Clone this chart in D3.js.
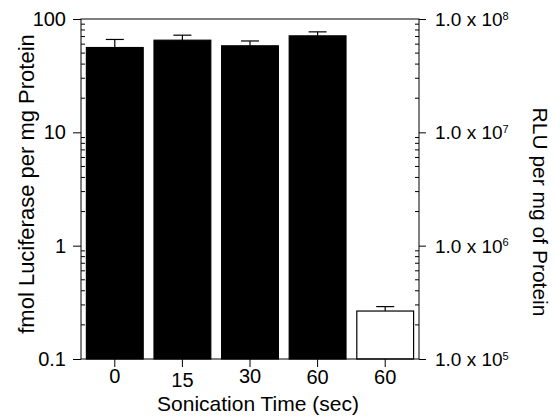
<!DOCTYPE html>
<html>
<head>
<meta charset="utf-8">
<script src="https://cdn.jsdelivr.net/npm/d3@7"></script>
<style>
  body { margin: 0; background: #fff; }
  text { font-family: "Liberation Sans", Arial, sans-serif; fill: #000; }
</style>
</head>
<body>
<div id="chart"></div>
<script>
// data
const categories = ['0', '15', '30', '60', '60 '];
const values = [56, 65, 58, 71, 0.265];
const errors = [66, 72, 64, 77, 0.29];
const filled = [true, true, true, true, false];
const leftTicks = [0.1, 1, 10, 100];
const rightTicks = [1e5, 1e6, 1e7, 1e8];

const width = 555, height = 416;
const m = { top: 19, right: 136, bottom: 57, left: 81 };
const w = width - m.left - m.right;
const h = height - m.top - m.bottom;

// small vertical jitter of the x labels, as in the original scan
const labelShift = [-2, 2, -2, -1, -1];

const svg = d3.select('#chart').append('svg')
  .attr('width', width)
  .attr('height', height);

const g = svg.append('g').attr('transform', `translate(${m.left},${m.top})`);

const x = d3.scaleBand().domain(categories).range([0, w]).paddingInner(0.16).paddingOuter(0.08);
const y = d3.scaleLog().domain([0.1, 100]).range([h, 0]);
const y2 = d3.scaleLog().domain([1e5, 1e8]).range([h, 0]);

// bars
g.selectAll('.bar')
  .data(values)
  .enter().append('rect')
  .attr('x', (d, i) => x(categories[i]))
  .attr('width', x.bandwidth())
  .attr('y', d => y(d))
  .attr('height', d => h - y(d))
  .style('fill', (d, i) => filled[i] ? '#000' : '#fff')
  .style('stroke', '#000')
  .style('stroke-width', 1.2);

// error bars
const cap = 9;
errors.forEach((e, i) => {
  const cx = x(categories[i]) + x.bandwidth() / 2;
  g.append('line')
    .attr('x1', cx).attr('x2', cx)
    .attr('y1', y(values[i])).attr('y2', y(e))
    .style('stroke', '#000').style('stroke-width', 1.2);
  g.append('line')
    .attr('x1', cx - cap).attr('x2', cx + cap)
    .attr('y1', y(e)).attr('y2', y(e))
    .style('stroke', '#000').style('stroke-width', 1.2);
});

// frame
g.append('rect')
  .attr('width', w).attr('height', h)
  .style('fill', 'none').style('stroke', '#000').style('stroke-width', 1);

// minor ticks
const minor = [];
[0.1, 1, 10].forEach(dec => { for (let k = 2; k <= 9; k++) minor.push(dec * k); });
g.selectAll('.minorL').data(minor).enter().append('line')
  .attr('x1', 0).attr('x2', 4)
  .attr('y1', d => y(d)).attr('y2', d => y(d))
  .style('stroke', '#000');
g.selectAll('.minorR').data(minor).enter().append('line')
  .attr('x1', w).attr('x2', w - 4)
  .attr('y1', d => y(d)).attr('y2', d => y(d))
  .style('stroke', '#000');

// left axis
const yAxis = g.append('g')
  .call(d3.axisLeft(y).tickValues(leftTicks).tickFormat(d => d3.format('~g')(d)).tickSize(8).tickPadding(7));
yAxis.select('.domain').remove();
yAxis.selectAll('text').style('font-size', '20px');

// right axis
const y2Axis = g.append('g')
  .attr('transform', `translate(${w},0)`)
  .call(d3.axisRight(y2).tickValues(rightTicks).tickFormat('').tickSize(7));
y2Axis.select('.domain').remove();
y2Axis.selectAll('.tick').append('text')
  .attr('x', 16).attr('dy', '0.35em')
  .style('font-size', '19px')
  .style('text-anchor', 'start')
  .each(function (d) {
    const t = d3.select(this);
    t.append('tspan').text('1.0 x 10');
    t.append('tspan').attr('dy', '-0.6em').style('font-size', '11px').text(Math.round(Math.log10(d)));
  });

// x axis
const xAxis = g.append('g')
  .attr('transform', `translate(0,${h})`)
  .call(d3.axisBottom(x).tickSize(8).tickPadding(4));
xAxis.select('.domain').remove();
xAxis.selectAll('text')
  .style('font-size', '20px')
  .attr('transform', (d, i) => `translate(0,${labelShift[i]})`);

// axis titles
svg.append('text')
  .attr('transform', 'translate(34,184) rotate(-90)')
  .style('text-anchor', 'middle')
  .style('font-size', '22px')
  .text('fmol Luciferase per mg Protein');

svg.append('text')
  .attr('transform', 'translate(533,212) rotate(90)')
  .style('text-anchor', 'middle')
  .style('font-size', '21px')
  .text('RLU per mg of Protein');

svg.append('text')
  .attr('x', 258)
  .attr('y', 411)
  .style('text-anchor', 'middle')
  .style('font-size', '21px')
  .text('Sonication Time (sec)');
</script>
</body>
</html>
